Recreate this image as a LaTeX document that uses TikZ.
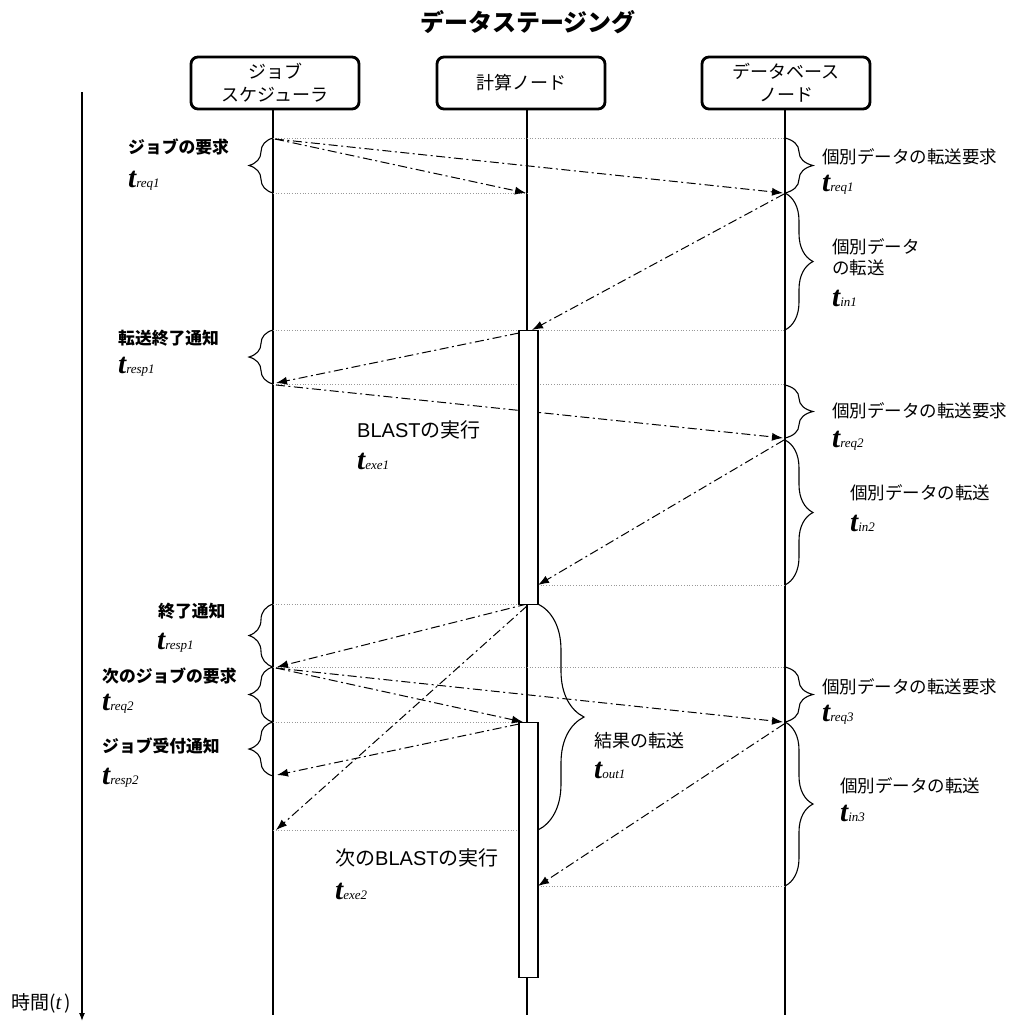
\documentclass[tikz,border=0pt]{standalone}
\usepackage{fontspec}
\newfontfamily\jp{Noto Sans CJK JP}
\newfontfamily\tf{Liberation Serif}
\newfontfamily\lat{Liberation Sans}
\usetikzlibrary{arrows.meta,decorations.pathreplacing}
\newcommand\tlab[1]{{\tf\bfseries\itshape\fontsize{29}{29}\selectfont t}{\tf\itshape\fontsize{13}{13}\selectfont #1}}
\begin{document}
\begin{tikzpicture}[x=1pt,y=-1pt,
 msg/.style={line width=1pt, dash pattern=on 9pt off 3.5pt on 2pt off 3.5pt, -{Latex[length=11pt,width=8pt]}},
 guide/.style={gray!80, dotted, line width=0.7pt},
 life/.style={line width=1.2pt},
 head/.style={draw, line width=2.8pt, rounded corners=7pt, minimum width=168pt, minimum height=52pt, inner sep=2pt, font=\jp\fontsize{18}{23}\selectfont, align=center},
 lbr/.style={decorate, decoration={brace, amplitude=24pt}, line width=1.1pt},
 rbr/.style={decorate, decoration={brace, amplitude=28pt}, line width=1.1pt},
 lab/.style={font=\jp\bfseries\fontsize{16.8}{20}\selectfont, anchor=west, inner sep=0pt},
 rlab/.style={font=\jp\fontsize{17.5}{21}\selectfont, anchor=west, inner sep=0pt, align=left},
 mlab/.style={font=\jp\fontsize{20}{22}\selectfont, anchor=west, inner sep=0pt},
 tl/.style={anchor=west, inner sep=0pt},
 act/.style={draw, fill=white, line width=1.1pt, minimum width=19pt, inner sep=0pt, anchor=north},
]
\useasboundingbox (0,0) rectangle (1011,1021);

% title
\node[font=\jp\bfseries\fontsize{24}{26}\selectfont] (title) at (528,22) {データステージング};

% heads
\node[head] (js) at (275,83) {ジョブ\\スケジューラ};
\node[head] (cn) at (521,83) {計算ノード};
\node[head] (db) at (786,83) {データベース\\ノード};

% lifelines
\coordinate (jtop) at (273,109); \coordinate (jbot) at (273,1015);
\coordinate (ctop) at (527,109); \coordinate (cbot) at (527,1015);
\coordinate (dtop) at (785,109); \coordinate (dbot) at (785,1015);
\draw[life] (jtop) -- (jbot);
\draw[life] (ctop) -- (cbot);
\draw[life] (dtop) -- (dbot);

% time axis
\coordinate (ttop) at (82,92); \coordinate (tbot) at (82,1021);
\draw[line width=1.2pt, -{Latex[length=8pt,width=6pt]}] (ttop) -- (tbot);
\node[font=\jp\fontsize{19}{21}\selectfont, anchor=west, inner sep=0pt] (tlabel) at (11,1003) {時間({\tf\itshape\fontsize{21}{21}\selectfont t\,})};

% dotted guides
\coordinate (g1a) at (273,138); \coordinate (g1b) at (785,138);
\coordinate (g2a) at (273,193); \coordinate (g2b) at (527,193);
\coordinate (g3a) at (273,330); \coordinate (g3b) at (785,330);
\coordinate (g4a) at (273,384); \coordinate (g4b) at (785,384);
\coordinate (g5a) at (538,585); \coordinate (g5b) at (785,585);
\coordinate (g6a) at (273,604); \coordinate (g6b) at (527,604);
\coordinate (g7a) at (273,667); \coordinate (g7b) at (785,667);
\coordinate (g8a) at (273,722); \coordinate (g8b) at (527,722);
\coordinate (g9a) at (273,830); \coordinate (g9b) at (519,830);
\coordinate (g10a) at (538,886); \coordinate (g10b) at (785,886);
\foreach \g in {1,...,10} \draw[guide] (g\g a) -- (g\g b);

% message endpoints
\coordinate (m1s) at (275,139); \coordinate (m1e) at (526,193);
\coordinate (m2e) at (783,193);
\coordinate (m3s) at (784,194); \coordinate (m3e) at (532,330);
\coordinate (m4s) at (519,333); \coordinate (m4e) at (276,383);
\coordinate (m5s) at (276,385); \coordinate (m5e) at (783,438);
\coordinate (m6s) at (784,440); \coordinate (m6e) at (538,585);
\coordinate (m7s) at (527,604); \coordinate (m7e) at (277,667);
\coordinate (m8s) at (527,606); \coordinate (m8e) at (276,830);
\coordinate (m9s) at (276,668); \coordinate (m9e) at (523,722);
\coordinate (m10e) at (783,722);
\coordinate (m11s) at (519,724); \coordinate (m11e) at (277,775);
\coordinate (m12s) at (784,724); \coordinate (m12e) at (538,886);

\draw[msg] (m1s) -- (m1e);
\draw[msg] (m1s) -- (m2e);
\draw[msg] (m3s) -- (m3e);
\draw[msg] (m4s) -- (m4e);
\draw[msg] (m5s) -- (m5e);
\draw[msg] (m6s) -- (m6e);
\draw[msg] (m7s) -- (m7e);
\draw[msg] (m8s) -- (m8e);
\draw[msg] (m9s) -- (m9e);
\draw[msg] (m9s) -- (m10e);
\draw[msg] (m11s) -- (m11e);
\draw[msg] (m12s) -- (m12e);

% activation boxes
\node[act, minimum height=274pt] (act1) at (528.5,330) {};
\node[act, minimum height=255pt] (act2) at (528.5,722) {};

% left braces
\draw[lbr] (273,193) -- (273,138);
\draw[lbr] (273,384) -- (273,330);
\draw[lbr] (273,667) -- (273,604);
\draw[lbr] (273,722) -- (273,667);
\draw[lbr] (273,776) -- (273,722);

% right braces
\draw[rbr] (785,138) -- (785,193);
\draw[rbr] (785,193) -- (785,330);
\draw[rbr] (785,385) -- (785,438);
\draw[rbr] (785,440) -- (785,585);
\draw[rbr] (785,667) -- (785,722);
\draw[rbr] (785,722) -- (785,886);

% compute brace
\draw[decorate, decoration={brace, amplitude=46pt}, line width=1.1pt] (538,604) -- (538,830);

% left labels
\node[lab] (a1) at (128,147) {ジョブの要求};
\node[tl] (a1t) at (128,181) {\tlab{req1}};
\node[lab] (a2) at (118,338) {転送終了通知};
\node[tl] (a2t) at (118,367) {\tlab{resp1}};
\node[lab] (a3) at (158,611) {終了通知};
\node[tl] (a3t) at (157,643) {\tlab{resp1}};
\node[lab] (a4) at (102,676) {次のジョブの要求};
\node[tl] (a4t) at (102,704) {\tlab{req2}};
\node[lab] (a5) at (102,746) {ジョブ受付通知};
\node[tl] (a5t) at (102,778) {\tlab{resp2}};

% right labels
\node[rlab] (b1) at (822,157) {個別データの転送要求};
\node[tl] (b1t) at (822,185) {\tlab{req1}};
\node[rlab] (b2) at (832,257) {個別データ\\の転送};
\node[tl] (b2t) at (832,298) {\tlab{in1}};
\node[rlab] (b3) at (832,411) {個別データの転送要求};
\node[tl] (b3t) at (832,441) {\tlab{req2}};
\node[rlab] (b4) at (850,493) {個別データの転送};
\node[tl] (b4t) at (850,523) {\tlab{in2}};
\node[rlab] (b5) at (822,687) {個別データの転送要求};
\node[tl] (b5t) at (822,715) {\tlab{req3}};
\node[rlab] (b6) at (840,786) {個別データの転送};
\node[tl] (b6t) at (840,813) {\tlab{in3}};

% middle labels
\node[rlab, font=\jp\fontsize{18}{21}\selectfont] (c1) at (594,741) {結果の転送};
\node[tl] (c1t) at (594,770) {\tlab{out1}};
\node[mlab] (e1) at (357,430) {{\lat BLAST}の実行};
\node[tl] (e1t) at (357,461) {\tlab{exe1}};
\node[mlab] (e2) at (335,858) {次の{\lat BLAST}の実行};
\node[tl] (e2t) at (335,891) {\tlab{exe2}};
\end{tikzpicture}
\end{document}
